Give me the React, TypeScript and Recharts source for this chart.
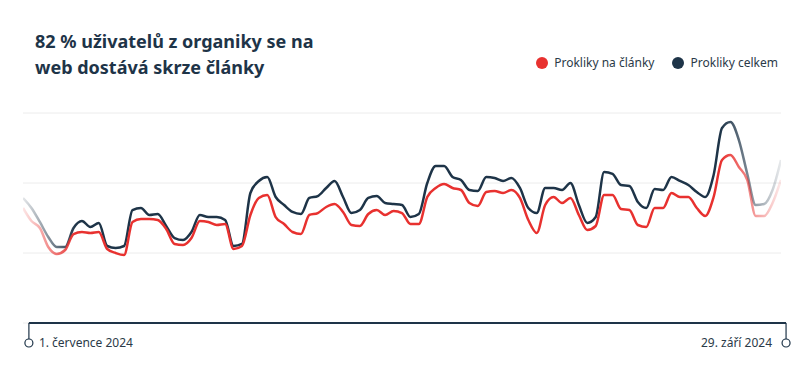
import React from 'react';
import { LineChart, Line, XAxis, YAxis, CartesianGrid, ReferenceLine } from 'recharts';

// denní prokliky, 1. 7. – 29. 9. 2024 (91 dní)
const celkem = [
  1786, 1643, 1443, 1229, 1086, 1086, 1357, 1457, 1371, 1429,
  1100, 1071, 1100, 1614, 1643, 1543, 1557, 1386, 1214, 1186,
  1300, 1543, 1514, 1514, 1471, 1100, 1129, 1857, 2029, 2086,
  1800, 1686, 1586, 1557, 1786, 1814, 1929, 2029, 1800, 1571,
  1614, 1786, 1814, 1714, 1700, 1686, 1514, 1557, 2000, 2243,
  2243, 2086, 2043, 1900, 1886, 2086, 2071, 2029, 2071, 1929,
  1643, 1571, 1929, 1929, 1900, 2000, 1686, 1429, 1514, 2157,
  2129, 1971, 1957, 1729, 1643, 1914, 1900, 2086, 2029, 1971,
  1871, 1800, 2114, 2786, 2871, 2614, 2129, 1686, 1700, 1900,
  2329,
];

const naClanky = [
  1643, 1457, 1357, 1086, 986, 1043, 1271, 1300, 1286, 1300,
  1057, 1000, 971, 1443, 1486, 1486, 1471, 1343, 1129, 1114,
  1214, 1457, 1443, 1400, 1414, 1057, 1100, 1543, 1786, 1829,
  1514, 1414, 1300, 1271, 1543, 1571, 1657, 1700, 1586, 1400,
  1386, 1557, 1614, 1543, 1600, 1571, 1414, 1414, 1800, 1929,
  1986, 1929, 1900, 1714, 1671, 1871, 1886, 1857, 1900, 1786,
  1471, 1286, 1686, 1800, 1714, 1786, 1543, 1329, 1386, 1829,
  1829, 1629, 1614, 1400, 1371, 1643, 1643, 1857, 1800, 1800,
  1643, 1529, 1800, 2329, 2400, 2229, 2043, 1529, 1529, 1714,
  2043,
];

const tickLabels = ['1. července 2024', '29. září 2024'];
const yTicks = [0, 1000, 2000, 3000];
const axisStart = 0.7;
const axisEnd = 90.6;

const RED = '#e8312f';
const NAVY = '#1e3448';

const data = celkem.map((v, i) => ({ day: i, celkem: v, clanky: naClanky[i] }));

const AxisEnd = (props: any) => {
  const { x, y, index } = props;
  const first = index === 0;
  return (
    <g>
      <line x1={x} y1={y} x2={x} y2={y + 16} stroke={NAVY} strokeWidth={1.2} />
      <circle cx={x} cy={y + 20} r={4} fill="#fff" stroke={NAVY} strokeWidth={1.2} />
      <text
        x={first ? x + 10 : x - 14}
        y={y + 24}
        textAnchor={first ? 'start' : 'end'}
        fontSize={12}
        fill="#2b3a48"
        fontFamily="'Noto Sans', sans-serif"
      >
        {tickLabels[first ? 0 : 1]}
      </text>
    </g>
  );
};

const legendItems = [
  { name: 'Prokliky na články', color: RED },
  { name: 'Prokliky celkem', color: NAVY },
];

export default function App() {
  return (
    <div style={{ position: 'absolute', left: 0, top: 0, width: 810, height: 371, background: '#fff' }}>
      <div
        style={{
          position: 'absolute',
          left: 35,
          top: 28,
          fontFamily: "'Noto Sans', sans-serif",
          fontWeight: 700,
          fontSize: 18,
          lineHeight: '26px',
          color: NAVY,
        }}
      >
        82 % uživatelů z organiky se na
        <br />
        web dostává skrze články
      </div>
      <div
        style={{
          position: 'absolute',
          right: 32,
          top: 54,
          display: 'flex',
          gap: 18,
          fontSize: 12,
          color: '#2b3a48',
          fontFamily: "'Noto Sans', sans-serif",
        }}
      >
        {legendItems.map((it) => (
          <div key={it.name} style={{ display: 'flex', alignItems: 'center' }}>
            <span style={{ width: 12, height: 12, borderRadius: 6, background: it.color, marginRight: 6 }} />
            {it.name}
          </div>
        ))}
      </div>
      <LineChart width={810} height={371} data={data} margin={{ top: 113, right: 29, left: 23, bottom: 18 }}>
        <defs>
          <linearGradient id="fadeRed" x1="0" y1="0" x2="1" y2="0">
            <stop offset="0%" stopColor={RED} stopOpacity={0.12} />
            <stop offset="7%" stopColor={RED} stopOpacity={1} />
            <stop offset="92%" stopColor={RED} stopOpacity={1} />
            <stop offset="100%" stopColor={RED} stopOpacity={0.1} />
          </linearGradient>
          <linearGradient id="fadeNavy" x1="0" y1="0" x2="1" y2="0">
            <stop offset="0%" stopColor={NAVY} stopOpacity={0.12} />
            <stop offset="7%" stopColor={NAVY} stopOpacity={1} />
            <stop offset="92%" stopColor={NAVY} stopOpacity={1} />
            <stop offset="100%" stopColor={NAVY} stopOpacity={0.1} />
          </linearGradient>
        </defs>
        <CartesianGrid vertical={false} stroke="#ececec" />
        <YAxis hide domain={[0, 3000]} ticks={yTicks} />
        <XAxis
          type="number"
          dataKey="day"
          domain={[0, 90]}
          ticks={[axisStart, axisEnd]}
          allowDataOverflow
          tickLine={false}
          tickSize={0}
          tickMargin={0}
          axisLine={false}
          tick={<AxisEnd />}
          interval={0}
        />
        <ReferenceLine
          segment={[
            { x: axisStart, y: 0 },
            { x: axisEnd, y: 0 },
          ]}
          stroke={NAVY}
          strokeWidth={2}
          ifOverflow="visible"
        />
        <Line
          type="monotone"
          dataKey="celkem"
          name="Prokliky celkem"
          stroke="url(#fadeNavy)"
          strokeWidth={2.5}
          dot={false}
          isAnimationActive={false}
        />
        <Line
          type="monotone"
          dataKey="clanky"
          name="Prokliky na články"
          stroke="url(#fadeRed)"
          strokeWidth={2.5}
          dot={false}
          isAnimationActive={false}
        />
      </LineChart>
    </div>
  );
}
